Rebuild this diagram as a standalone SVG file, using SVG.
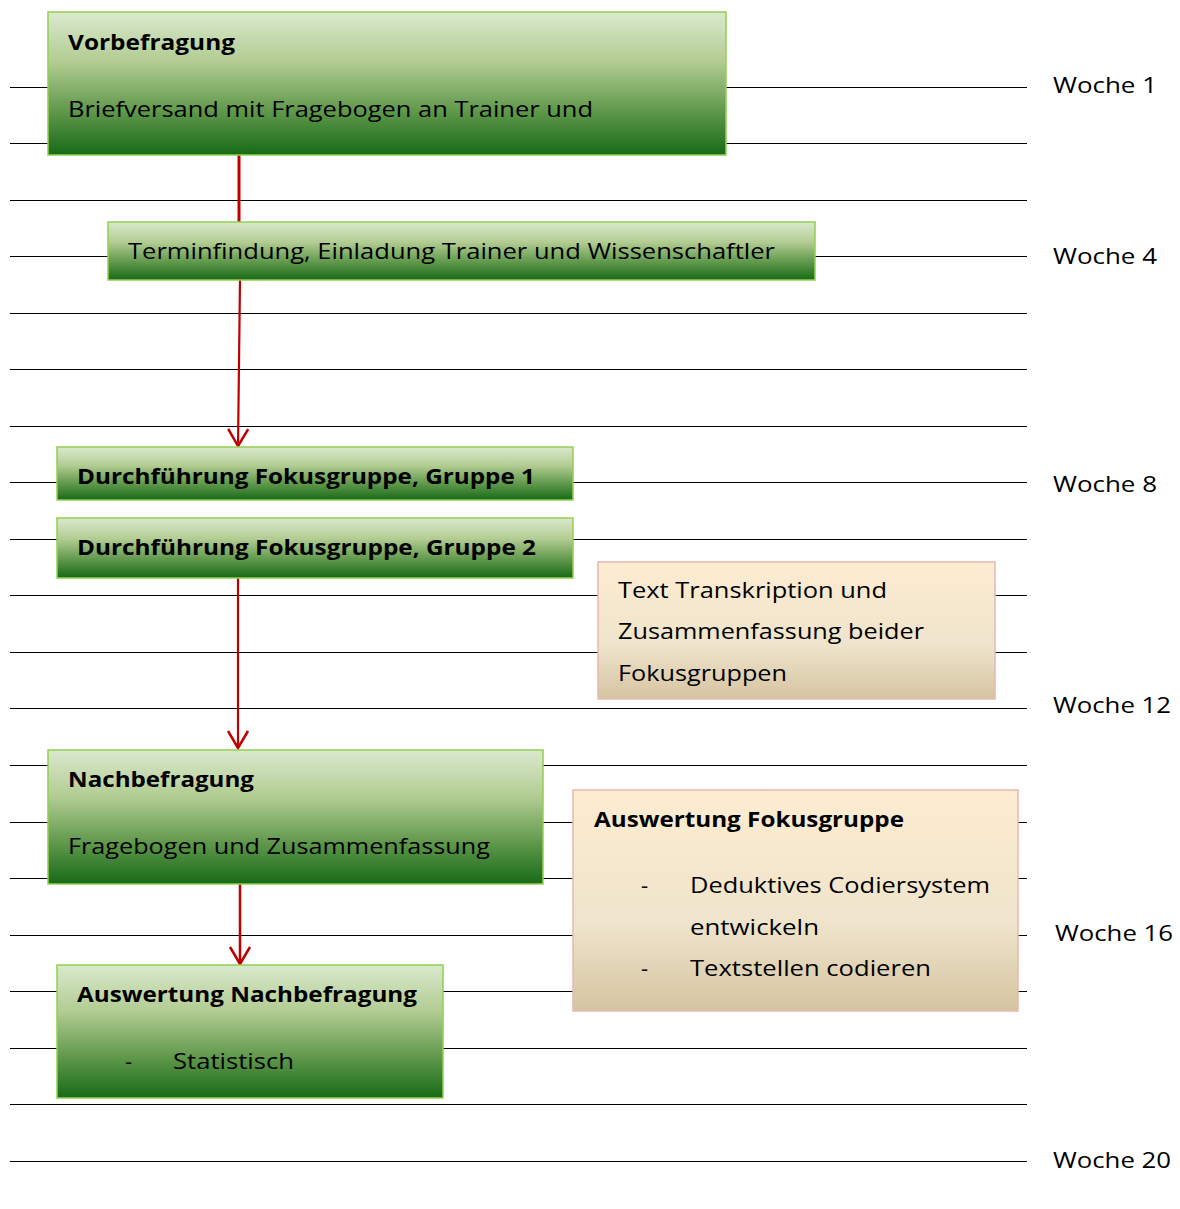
<svg xmlns="http://www.w3.org/2000/svg" width="1180" height="1209" viewBox="0 0 1180 1209">
<defs>
<style>
text{font-family:"Open Sans","Noto Sans","Liberation Sans",sans-serif;font-size:22px;fill:#000}
.b{font-weight:bold}
.grid line{stroke:#000;stroke-width:1;shape-rendering:crispEdges}
.g{fill:url(#gg);stroke:#92d050;stroke-width:1.5}
.t{fill:url(#tg);stroke:#e6b9b0;stroke-width:1.5}
.c line{stroke:#c00000;fill:none}
</style>
<linearGradient id="gg" x1="0" y1="0" x2="0" y2="1">
<stop offset="0" stop-color="#dae9ce"/>
<stop offset="0.35" stop-color="#b2cc92"/>
<stop offset="0.7" stop-color="#5e974a"/>
<stop offset="1" stop-color="#176a17"/>
</linearGradient>
<linearGradient id="tg" x1="0" y1="0" x2="0" y2="1">
<stop offset="0" stop-color="#fdecd1"/>
<stop offset="0.6" stop-color="#efe4cc"/>
<stop offset="1" stop-color="#d5c4a1"/>
</linearGradient>
<marker id="ah" markerUnits="userSpaceOnUse" viewBox="-20 -12 24 24" markerWidth="24" markerHeight="24" refX="0" refY="0" orient="auto" overflow="visible">
<path d="M-17,-10 L0,0 L-17,10" fill="none" stroke="#c00000" stroke-width="2.5"/>
</marker>
</defs>
<rect width="1180" height="1209" fill="#fff"/>
<g class="grid">
<line x1="10" y1="87.5" x2="1027" y2="87.5"/>
<line x1="10" y1="143.5" x2="1027" y2="143.5"/>
<line x1="10" y1="200.5" x2="1027" y2="200.5"/>
<line x1="10" y1="256.5" x2="1027" y2="256.5"/>
<line x1="10" y1="313.5" x2="1027" y2="313.5"/>
<line x1="10" y1="369.5" x2="1027" y2="369.5"/>
<line x1="10" y1="426.5" x2="1027" y2="426.5"/>
<line x1="10" y1="482.5" x2="1027" y2="482.5"/>
<line x1="10" y1="539.5" x2="1027" y2="539.5"/>
<line x1="10" y1="595.5" x2="1027" y2="595.5"/>
<line x1="10" y1="652.5" x2="1027" y2="652.5"/>
<line x1="10" y1="708.5" x2="1027" y2="708.5"/>
<line x1="10" y1="765.5" x2="1027" y2="765.5"/>
<line x1="10" y1="822.5" x2="1027" y2="822.5"/>
<line x1="10" y1="878.5" x2="1027" y2="878.5"/>
<line x1="10" y1="935.5" x2="1027" y2="935.5"/>
<line x1="10" y1="991.5" x2="1027" y2="991.5"/>
<line x1="10" y1="1048.5" x2="1027" y2="1048.5"/>
<line x1="10" y1="1104.5" x2="1027" y2="1104.5"/>
<line x1="10" y1="1161.5" x2="1027" y2="1161.5"/>
</g>
<g id="weeks">
<text x="1053" y="93" textLength="104" lengthAdjust="spacingAndGlyphs">Woche 1</text>
<text x="1053" y="264" textLength="104" lengthAdjust="spacingAndGlyphs">Woche 4</text>
<text x="1053" y="492" textLength="104" lengthAdjust="spacingAndGlyphs">Woche 8</text>
<text x="1053" y="713" textLength="118" lengthAdjust="spacingAndGlyphs">Woche 12</text>
<text x="1055" y="941" textLength="118" lengthAdjust="spacingAndGlyphs">Woche 16</text>
<text x="1053" y="1168" textLength="118" lengthAdjust="spacingAndGlyphs">Woche 20</text>
</g>
<g class="c" id="connectors">
<line x1="239" y1="155" x2="239" y2="222" stroke-width="3"/>
<line x1="240" y1="280" x2="238" y2="446" stroke-width="2.2" marker-end="url(#ah)"/>
<line x1="238" y1="578" x2="238" y2="748" stroke-width="2.2" marker-end="url(#ah)"/>
<line x1="240" y1="884" x2="240" y2="964" stroke-width="2.5" marker-end="url(#ah)"/>
</g>
<g id="vorbefragung">
<rect class="g" x="48" y="12" width="678" height="143"/>
<text class="b" x="68" y="50" textLength="167" lengthAdjust="spacingAndGlyphs">Vorbefragung</text>
<text x="68" y="117" textLength="525" lengthAdjust="spacingAndGlyphs">Briefversand mit Fragebogen an Trainer und</text>
</g>
<g id="terminfindung">
<rect class="g" x="108" y="222" width="707" height="58"/>
<text x="128" y="259" textLength="647" lengthAdjust="spacingAndGlyphs">Terminfindung, Einladung Trainer und Wissenschaftler</text>
</g>
<g id="gruppe1">
<rect class="g" x="57" y="447" width="516" height="53"/>
<text class="b" x="77" y="484" textLength="458" lengthAdjust="spacingAndGlyphs">Durchführung Fokusgruppe, Gruppe 1</text>
</g>
<g id="gruppe2">
<rect class="g" x="57" y="518" width="516" height="60"/>
<text class="b" x="77" y="555" textLength="459" lengthAdjust="spacingAndGlyphs">Durchführung Fokusgruppe, Gruppe 2</text>
</g>
<g id="transkription">
<rect class="t" x="598" y="562" width="397" height="137"/>
<text x="618" y="598" textLength="269" lengthAdjust="spacingAndGlyphs">Text Transkription und</text>
<text x="618" y="639" textLength="306" lengthAdjust="spacingAndGlyphs">Zusammenfassung beider</text>
<text x="618" y="681" textLength="169" lengthAdjust="spacingAndGlyphs">Fokusgruppen</text>
</g>
<g id="nachbefragung">
<rect class="g" x="48" y="750" width="495" height="134"/>
<text class="b" x="68" y="787" textLength="186" lengthAdjust="spacingAndGlyphs">Nachbefragung</text>
<text x="68" y="854" textLength="422" lengthAdjust="spacingAndGlyphs">Fragebogen und Zusammenfassung</text>
</g>
<g id="auswertung-fokusgruppe">
<rect class="t" x="573" y="790" width="445" height="221"/>
<text class="b" x="594" y="827" textLength="310" lengthAdjust="spacingAndGlyphs">Auswertung Fokusgruppe</text>
<text x="641" y="893">-</text>
<text x="690" y="893" textLength="300" lengthAdjust="spacingAndGlyphs">Deduktives Codiersystem</text>
<text x="690" y="935" textLength="129" lengthAdjust="spacingAndGlyphs">entwickeln</text>
<text x="641" y="976">-</text>
<text x="690" y="976" textLength="241" lengthAdjust="spacingAndGlyphs">Textstellen codieren</text>
</g>
<g id="auswertung-nachbefragung">
<rect class="g" x="57" y="965" width="386" height="133"/>
<text class="b" x="77" y="1002" textLength="340" lengthAdjust="spacingAndGlyphs">Auswertung Nachbefragung</text>
<text x="125" y="1069">-</text>
<text x="173" y="1069" textLength="121" lengthAdjust="spacingAndGlyphs">Statistisch</text>
</g>
</svg>
